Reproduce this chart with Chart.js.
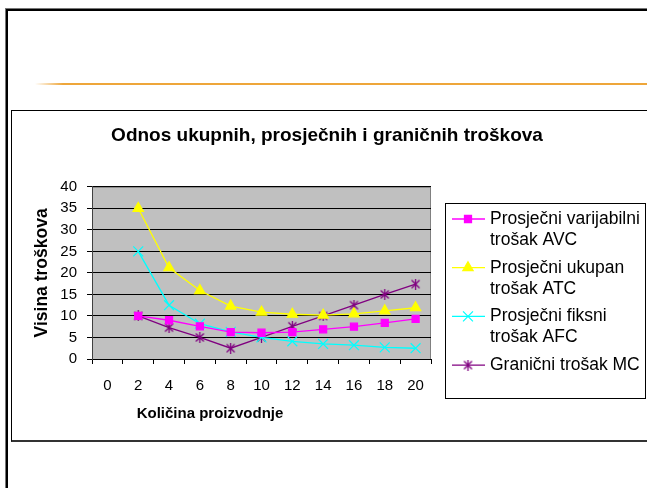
<!DOCTYPE html>
<html>
<head>
<meta charset="utf-8">
<script src="https://cdn.jsdelivr.net/npm/chart.js@4.4.1/dist/chart.umd.min.js"></script>
<style>
  body { margin: 0; width: 647px; height: 488px; overflow: hidden; background: #fff; position: relative; }
  .slide { position: absolute; left: 6px; top: 9px; width: 700px; height: 600px; border: 2px solid #000; box-shadow: -1px -1px 0 #777; }
  .rule { position: absolute; left: 35px; top: 83px; width: 640px; height: 2px;
          background: linear-gradient(to right, rgba(238,166,58,0), #EEA63A 28px); }
  .box { position: absolute; left: 11px; top: 110px; width: 700px; height: 329px;
         border-top: 1px solid #000; border-left: 1px solid #000; border-bottom: 2px solid #333; }
  #costChart { position: absolute; left: 12px; top: 111px; }
</style>
</head>
<body>
<div class="slide"></div>
<div class="rule"></div>
<div class="box"></div>
<canvas id="costChart" width="634" height="329"></canvas>
<script>
// quantity on x axis (no value at 0)
const quantities = ['0', '2', '4', '6', '8', '10', '12', '14', '16', '18', '20'];

const avcValues = [null, 10, 9, 7.6, 6.25, 6.1, 6.25, 6.9, 7.5, 8.4, 9.3];
const atcValues = [null, 35, 21.2, 15.9, 12.3, 10.9, 10.4, 10.2, 10.5, 11.2, 11.9];
const afcValues = [null, 25, 12.5, 8.2, 6.3, 5, 4.1, 3.5, 3.2, 2.7, 2.5];
const mcValues = [null, 10, 7.3, 5, 2.5, 5, 7.6, 10, 12.5, 15, 17.4];

const seriesNames = [
    ['Prosječni varijabilni', 'trošak AVC'],
    ['Prosječni ukupan', 'trošak ATC'],
    ['Prosječni fiksni', 'trošak AFC'],
    ['Granični trošak MC']
];
const seriesColors = ['#FF00FF', '#FFFF00', '#00FFFF', '#800080'];

const FONT = 'Arial, "Liberation Sans", sans-serif';

// asterisk marker like the one Excel uses
function makeAsterisk(color) {
    const c = document.createElement('canvas');
    c.width = 11;
    c.height = 11;
    const g = c.getContext('2d');
    g.strokeStyle = color;
    g.lineWidth = 1.3;
    g.beginPath();
    g.moveTo(1.5, 1.5); g.lineTo(9.5, 9.5);
    g.moveTo(9.5, 1.5); g.lineTo(1.5, 9.5);
    g.moveTo(5.5, 0); g.lineTo(5.5, 11);
    g.stroke();
    return c;
}
const asterisk = makeAsterisk(seriesColors[3]);

const markerStyles = [
    {pointStyle: 'rect', radius: 5},
    {pointStyle: 'triangle', radius: 6},
    {pointStyle: 'crossRot', radius: 7},
    {pointStyle: asterisk, radius: 5}
];

// grey plot area like excel
const plotBackground = {
    id: 'plotBackground',
    beforeDraw(chart) {
        const {ctx, chartArea: a} = chart;
        ctx.save();
        ctx.fillStyle = '#C0C0C0';
        ctx.fillRect(a.left, a.top, a.right - a.left, a.bottom - a.top);
        ctx.strokeStyle = '#808080';
        ctx.lineWidth = 1;
        ctx.strokeRect(a.left + 0.5, a.top + 0.5, a.right - a.left - 1, a.bottom - a.top);
        ctx.restore();
    }
};

// x axis title sits left of centre in the original
const xTitle = {
    id: 'xTitle',
    afterDraw(chart) {
        const ctx = chart.ctx;
        ctx.save();
        ctx.font = 'bold 15px ' + FONT;
        ctx.fillStyle = '#000';
        ctx.textAlign = 'center';
        ctx.textBaseline = 'middle';
        ctx.fillText('Količina proizvodnje', 198, 303);
        ctx.restore();
    }
};

// boxed legend with two-line labels
const boxLegend = {
    id: 'boxLegend',
    afterDraw(chart) {
        const ctx = chart.ctx;
        const left = 433, top = 92, width = 200, height = 195;
        ctx.save();
        ctx.strokeStyle = '#000';
        ctx.lineWidth = 1;
        ctx.strokeRect(left + 0.5, top + 0.5, width, height);
        ctx.font = '17.5px ' + FONT;
        ctx.textBaseline = 'middle';
        ctx.textAlign = 'left';
        let y = top + 16;
        chart.data.datasets.forEach((ds, i) => {
            ctx.strokeStyle = ds.borderColor;
            ctx.lineWidth = 1.3;
            ctx.beginPath();
            ctx.moveTo(left + 7, y);
            ctx.lineTo(left + 40, y);
            ctx.stroke();
            ctx.fillStyle = ds.borderColor;
            ctx.lineWidth = 1.2;
            Chart.helpers.drawPoint(ctx, {
                pointStyle: markerStyles[i].pointStyle,
                radius: markerStyles[i].radius,
                borderWidth: 1.2,
                rotation: 0
            }, left + 23, y);
            ctx.fillStyle = '#000';
            seriesNames[i].forEach((line, k) => {
                ctx.fillText(line, left + 45, y + k * 21);
            });
            y += 48.7;
        });
        ctx.restore();
    }
};

function makeDataset(i, values) {
    return {
        label: seriesNames[i].join(' '),
        data: values,
        borderColor: seriesColors[i],
        backgroundColor: seriesColors[i],
        borderWidth: 1.3,
        pointStyle: markerStyles[i].pointStyle,
        pointRadius: markerStyles[i].radius,
        pointBorderWidth: 1.2,
        tension: 0
    };
}

const ctx = document.getElementById('costChart').getContext('2d');
new Chart(ctx, {
    type: 'line',
    data: {
        labels: quantities,
        datasets: [
            makeDataset(0, avcValues),
            makeDataset(1, atcValues),
            makeDataset(2, afcValues),
            makeDataset(3, mcValues)
        ]
    },
    options: {
        responsive: false,
        animation: false,
        layout: {
            padding: {left: 8, right: 12, top: 0, bottom: 32}
        },
        plugins: {
            legend: {display: false},
            tooltip: {enabled: false},
            title: {
                display: true,
                text: 'Odnos ukupnih, prosječnih i graničnih troškova',
                color: '#000',
                font: {family: FONT, size: 19, weight: 'bold'},
                padding: {top: 13, bottom: 40}
            }
        },
        scales: {
            x: {
                offset: true,
                grid: {
                    offset: true,
                    drawOnChartArea: false,
                    drawTicks: true,
                    tickLength: 5,
                    color: '#000'
                },
                border: {color: '#000'},
                ticks: {
                    color: '#000',
                    padding: 13,
                    maxRotation: 0,
                    autoSkip: false,
                    font: {family: FONT, size: 15}
                }
            },
            y: {
                min: 0,
                max: 40,
                afterFit(scale) { scale.width = 72; },
                grid: {
                    color: '#000',
                    tickLength: 5
                },
                border: {color: '#404040'},
                ticks: {
                    stepSize: 5,
                    autoSkip: false,
                    color: '#000',
                    padding: 10,
                    font: {family: FONT, size: 15}
                },
                title: {
                    display: true,
                    text: 'Visina troškova',
                    color: '#000',
                    font: {family: FONT, size: 17.5, weight: 'bold'},
                    padding: {top: 11.5, bottom: 8}
                }
            },
            // empty right axis only keeps room for the boxed legend
            legendSpace: {
                type: 'linear',
                position: 'right',
                afterFit(scale) { scale.width = 203; },
                grid: {display: false},
                border: {display: false},
                ticks: {display: false}
            }
        }
    },
    plugins: [plotBackground, xTitle, boxLegend]
});
</script>
</body>
</html>
